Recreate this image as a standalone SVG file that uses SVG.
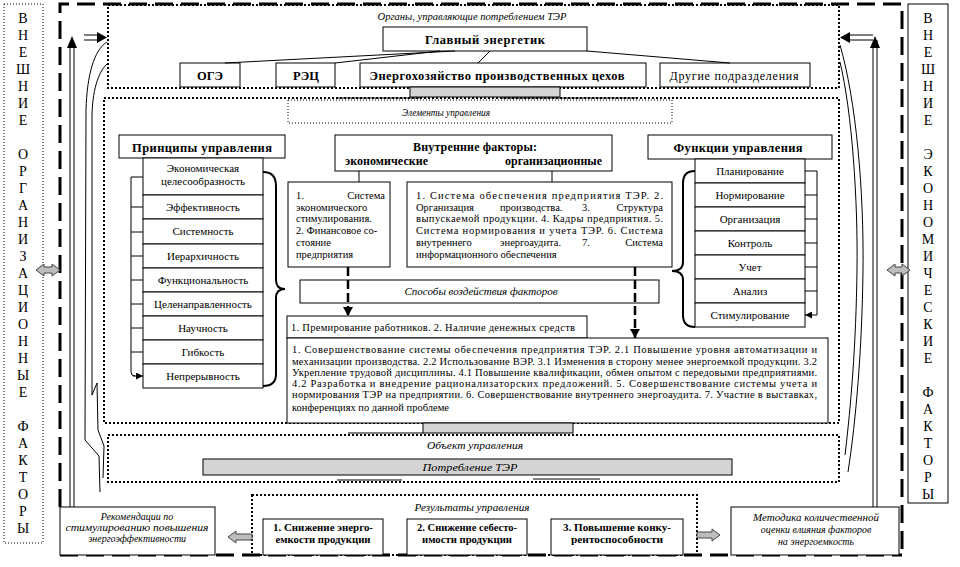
<svg xmlns="http://www.w3.org/2000/svg" width="960" height="567" viewBox="0 0 960 567" font-family="'Liberation Serif','DejaVu Serif','Times New Roman',serif">
<defs>
<style>
.bx{fill:#fff;stroke:#000;stroke-width:1}
.gb{fill:#d4d4d4;stroke:#000;stroke-width:1}
.dt{fill:none;stroke:#000;stroke-width:2;stroke-dasharray:2 2}
.dt1{fill:none;stroke:#000;stroke-width:1;stroke-dasharray:1 2}
.ln{fill:none;stroke:#000;stroke-width:1}
.br{fill:none;stroke:#000;stroke-width:2}
.ga{fill:#bdbdbd;stroke:#444;stroke-width:1}
text{font-family:'Liberation Serif','DejaVu Serif','Times New Roman',serif;fill:#000}
.s{font-size:11px}
.m{font-size:10.5px}
.b{font-weight:bold}
.i{font-style:italic;font-size:10px}
.c{text-anchor:middle}
.e{text-anchor:end}
.v{font-size:14px;text-anchor:middle}
</style>
<marker id="a" markerWidth="7" markerHeight="7" refX="7" refY="3.5" orient="auto" markerUnits="userSpaceOnUse"><path d="M0,0L7,3.5L0,7Z"/></marker>
<marker id="A" markerWidth="9" markerHeight="10" refX="9" refY="5" orient="auto" markerUnits="userSpaceOnUse"><path d="M0,0L9,5L0,10Z"/></marker>
</defs>
<rect width="960" height="567" fill="#fff"/>

<g id="frame">
<path d="M60,507 V4 H902 V555 M60,555 H902" fill="none" stroke="#000" stroke-width="3" stroke-dasharray="18 8"/>
</g>

<g id="ext-org">
<rect x="4" y="4" width="39" height="539" class="dt1"/>
<text class="v"><tspan x="23" y="23">В</tspan><tspan x="23" y="40">Н</tspan><tspan x="23" y="57">Е</tspan><tspan x="23" y="74">Ш</tspan><tspan x="23" y="91">Н</tspan><tspan x="23" y="108">И</tspan><tspan x="23" y="125">Е</tspan><tspan x="23" y="159">О</tspan><tspan x="23" y="176">Р</tspan><tspan x="23" y="193">Г</tspan><tspan x="23" y="210">А</tspan><tspan x="23" y="227">Н</tspan><tspan x="23" y="244">И</tspan><tspan x="23" y="261">З</tspan><tspan x="23" y="278">А</tspan><tspan x="23" y="295">Ц</tspan><tspan x="23" y="312">И</tspan><tspan x="23" y="329">О</tspan><tspan x="23" y="346">Н</tspan><tspan x="23" y="363">Н</tspan><tspan x="23" y="380">Ы</tspan><tspan x="23" y="397">Е</tspan><tspan x="23" y="431">Ф</tspan><tspan x="23" y="448">А</tspan><tspan x="23" y="465">К</tspan><tspan x="23" y="482">Т</tspan><tspan x="23" y="499">О</tspan><tspan x="23" y="516">Р</tspan><tspan x="23" y="533">Ы</tspan></text>
</g>

<g id="ext-econ">
<rect x="908" y="4" width="40" height="499" class="bx"/>
<text class="v"><tspan x="928" y="23">В</tspan><tspan x="928" y="40">Н</tspan><tspan x="928" y="57">Е</tspan><tspan x="928" y="74">Ш</tspan><tspan x="928" y="91">Н</tspan><tspan x="928" y="108">И</tspan><tspan x="928" y="125">Е</tspan><tspan x="928" y="159">Э</tspan><tspan x="928" y="176">К</tspan><tspan x="928" y="193">О</tspan><tspan x="928" y="210">Н</tspan><tspan x="928" y="227">О</tspan><tspan x="928" y="244">М</tspan><tspan x="928" y="261">И</tspan><tspan x="928" y="278">Ч</tspan><tspan x="928" y="295">Е</tspan><tspan x="928" y="312">С</tspan><tspan x="928" y="329">К</tspan><tspan x="928" y="346">И</tspan><tspan x="928" y="363">Е</tspan><tspan x="928" y="397">Ф</tspan><tspan x="928" y="414">А</tspan><tspan x="928" y="431">К</tspan><tspan x="928" y="448">Т</tspan><tspan x="928" y="465">О</tspan><tspan x="928" y="482">Р</tspan><tspan x="928" y="499">Ы</tspan></text>
</g>

<g id="organs">
<rect x="108" y="5" width="731" height="83" class="dt"/>
<text x="472" y="20" class="i c" textLength="189" lengthAdjust="spacingAndGlyphs">Органы, управляющие потреблением ТЭР</text>
</g>
<g id="chief">
<rect x="383" y="27" width="204" height="24" class="bx"/>
<text x="485" y="44" class="b c" font-size="12.5" textLength="120" lengthAdjust="spacing">Главный энергетик</text>
</g>
<g id="oge">
<rect x="180" y="63" width="60" height="24" class="bx"/>
<text x="210" y="80" class="b c" font-size="12.5">ОГЭ</text>
</g>
<g id="rec">
<rect x="276" y="63" width="59" height="24" class="bx"/>
<text x="306" y="80" class="b c" font-size="12.5">РЭЦ</text>
</g>
<g id="energo">
<rect x="360" y="63" width="286" height="24" class="bx"/>
<text x="497" y="80" class="b c" font-size="12.5" textLength="255" lengthAdjust="spacing">Энергохозяйство производственных цехов</text>
</g>
<g id="other">
<rect x="660" y="63" width="150" height="24" class="bx"/>
<text x="734" y="80" class="c" font-size="12" textLength="129" lengthAdjust="spacing">Другие подразделения</text>
</g>

<g id="elements">
<rect x="104" y="98" width="735" height="325" class="dt"/>
<rect x="288" y="100" width="384" height="23" class="dt1"/>
<text x="446" y="116" class="i c" textLength="88" lengthAdjust="spacingAndGlyphs">Элементы управления</text>
</g>

<g id="principles">
<rect x="119" y="135" width="166" height="23" class="bx"/>
<text x="202" y="152" class="b c" font-size="12.5" textLength="140" lengthAdjust="spacing">Принципы управления</text>
<rect x="143" y="158" width="120" height="37" class="bx"/>
<text x="203" y="172" class="s c">Экономическая</text>
<text x="203" y="185" class="s c">целесообразность</text>
<rect x="143" y="195" width="120" height="24" class="bx"/>
<text x="203" y="211" class="s c">Эффективность</text>
<rect x="143" y="219" width="120" height="25" class="bx"/>
<text x="203" y="235" class="s c">Системность</text>
<rect x="143" y="244" width="120" height="24" class="bx"/>
<text x="203" y="260" class="s c">Иерархичность</text>
<rect x="143" y="268" width="120" height="24" class="bx"/>
<text x="203" y="284" class="s c">Функциональность</text>
<rect x="143" y="292" width="120" height="24" class="bx"/>
<text x="203" y="308" class="s c">Целенаправленность</text>
<rect x="143" y="316" width="120" height="24" class="bx"/>
<text x="203" y="332" class="s c">Научность</text>
<rect x="143" y="340" width="120" height="24" class="bx"/>
<text x="203" y="356" class="s c">Гибкость</text>
<rect x="143" y="364" width="120" height="24" class="bx"/>
<text x="203" y="380" class="s c">Непрерывность</text>
</g>

<g id="internal">
<rect x="335" y="135" width="277" height="36" class="bx"/>
<text x="475" y="151" class="b c" font-size="12" textLength="124" lengthAdjust="spacing">Внутренние факторы:</text>
<text x="345" y="165" class="b" font-size="12" textLength="83" lengthAdjust="spacing">экономические</text>
<text x="505" y="165" class="b" font-size="12" textLength="97" lengthAdjust="spacing">организационные</text>
</g>

<g id="econ-factors">
<rect x="288" y="182" width="102" height="85" class="bx"/>
<text x="296" y="199" class="m">1.</text>
<text x="385" y="199" class="m e">Система</text>
<text x="296" y="211" class="m">экономического</text>
<text x="296" y="222" class="m">стимулирования.</text>
<text x="296" y="234" class="m">2. Финансовое со-</text>
<text x="296" y="246" class="m">стояние</text>
<text x="296" y="258" class="m">предприятия</text>
</g>

<g id="org-factors">
<rect x="407" y="182" width="265" height="85" class="bx"/>
<text x="416" y="199" class="m" textLength="247" lengthAdjust="spacing">1. Система обеспечения предприятия ТЭР. 2.</text>
<text x="416" y="211" class="m">Организация</text>
<text x="500" y="211" class="m">производства.</text>
<text x="582" y="211" class="m">3.</text>
<text x="663" y="211" class="m e">Структура</text>
<text x="416" y="222" class="m" textLength="247" lengthAdjust="spacing">выпускаемой продукции. 4. Кадры предприятия. 5.</text>
<text x="416" y="234" class="m" textLength="247" lengthAdjust="spacing">Система нормирования и учета ТЭР. 6. Система</text>
<text x="416" y="246" class="m">внутреннего</text>
<text x="500" y="246" class="m">энергоаудита.</text>
<text x="582" y="246" class="m">7.</text>
<text x="663" y="246" class="m e">Система</text>
<text x="416" y="258" class="m">информационного обеспечения</text>
</g>

<g id="functions">
<rect x="648" y="135" width="184" height="24" class="bx"/>
<text x="738" y="152" class="b c" font-size="12.5" textLength="129" lengthAdjust="spacing">Функции управления</text>
<rect x="695" y="159" width="110" height="24" class="bx"/>
<text x="750" y="175" class="s c">Планирование</text>
<rect x="695" y="183" width="110" height="24" class="bx"/>
<text x="750" y="199" class="s c">Нормирование</text>
<rect x="695" y="207" width="110" height="24" class="bx"/>
<text x="750" y="223" class="s c">Организация</text>
<rect x="695" y="231" width="110" height="24" class="bx"/>
<text x="750" y="247" class="s c">Контроль</text>
<rect x="695" y="255" width="110" height="24" class="bx"/>
<text x="750" y="271" class="s c">Учет</text>
<rect x="695" y="279" width="110" height="24" class="bx"/>
<text x="750" y="295" class="s c">Анализ</text>
<rect x="695" y="303" width="110" height="24" class="bx"/>
<text x="750" y="319" class="s c">Стимулирование</text>
</g>

<g id="methods">
<rect x="300" y="280" width="359" height="23" class="bx"/>
<text x="481" y="295" class="i c" font-size="10.5" textLength="153" lengthAdjust="spacingAndGlyphs">Способы воздействия факторов</text>
</g>

<g id="econ-methods">
<rect x="287" y="316" width="300" height="22" class="bx"/>
<text x="291" y="331" class="m" textLength="284" lengthAdjust="spacing">1. Премирование работников. 2. Наличие денежных средств</text>
</g>

<g id="org-methods">
<rect x="287" y="338" width="541" height="85" class="bx"/>
<text x="292" y="353" class="m" textLength="525" lengthAdjust="spacing">1. Совершенствование системы обеспечения предприятия ТЭР. 2.1 Повышение уровня автоматизации и</text>
<text x="292" y="365" class="m" textLength="525" lengthAdjust="spacing">механизации производства. 2.2 Использование ВЭР. 3.1 Изменения в сторону менее энергоемкой продукции. 3.2</text>
<text x="292" y="376" class="m" textLength="525" lengthAdjust="spacing">Укрепление трудовой дисциплины. 4.1 Повышение квалификации, обмен опытом с передовыми предприятиями.</text>
<text x="292" y="387" class="m" textLength="525" lengthAdjust="spacing">4.2 Разработка и внедрение рационализаторских предложений. 5. Совершенствование системы учета и</text>
<text x="292" y="398" class="m" textLength="525" lengthAdjust="spacing">нормирования ТЭР на предприятии. 6. Совершенствование внутреннего энергоаудита. 7. Участие в выставках,</text>
<text x="292" y="411" class="m">конференциях по данной проблеме</text>
</g>

<g id="object">
<rect x="108" y="435" width="731" height="47" class="dt"/>
<text x="475" y="449" class="i c" textLength="96" lengthAdjust="spacingAndGlyphs">Объект управления</text>
</g>
<g id="consumption">
<rect x="203" y="459" width="529" height="16" class="gb"/>
<text x="470" y="471" class="i c" textLength="95" lengthAdjust="spacingAndGlyphs">Потребление ТЭР</text>
</g>

<g id="results">
<rect x="252" y="495" width="445" height="60" class="dt"/>
<text x="472" y="511" class="i c" textLength="115" lengthAdjust="spacingAndGlyphs">Результаты управления</text>
</g>
<g id="res1">
<rect x="263" y="519" width="120" height="36" class="bx"/>
<text x="323" y="531" class="b c" font-size="10" textLength="100" lengthAdjust="spacingAndGlyphs">1. Снижение энерго-</text>
<text x="323" y="543" class="b c" font-size="10" textLength="95" lengthAdjust="spacingAndGlyphs">емкости продукции</text>
</g>
<g id="res2">
<rect x="407" y="519" width="120" height="36" class="bx"/>
<text x="467" y="531" class="b c" font-size="10" textLength="100" lengthAdjust="spacingAndGlyphs">2. Снижение себесто-</text>
<text x="467" y="543" class="b c" font-size="10" textLength="90" lengthAdjust="spacingAndGlyphs">имости продукции</text>
</g>
<g id="res3">
<rect x="551" y="519" width="132" height="36" class="bx"/>
<text x="617" y="531" class="b c" font-size="10" textLength="108" lengthAdjust="spacingAndGlyphs">3. Повышение конку-</text>
<text x="617" y="543" class="b c" font-size="10" textLength="92" lengthAdjust="spacingAndGlyphs">рентоспособности</text>
</g>

<g id="recommend">
<rect x="60" y="507" width="155" height="48" class="bx"/>
<text x="137" y="520" class="i c">Рекомендации по</text>
<text x="137" y="531" class="i c" textLength="143" lengthAdjust="spacingAndGlyphs">стимулированию повышения</text>
<text x="137" y="542" class="i c">энергоэффективности</text>
</g>
<g id="method">
<rect x="731" y="507" width="168" height="48" class="bx"/>
<text x="816" y="521" class="i c" textLength="126" lengthAdjust="spacingAndGlyphs">Методика количественной</text>
<text x="816" y="533" class="i c">оценки влияния факторов</text>
<text x="816" y="545" class="i c">на энергоемкость</text>
</g>

<g id="connectors">
<path class="ln" d="M455,51 L225,63 M440,51 L335,63 M490,51 L478,63 M587,51 L730,63"/>
<rect x="410" y="87" width="150" height="10" class="gb"/>
<rect x="423" y="423" width="150" height="10" class="gb"/>
<path class="ln" stroke-width="1.5" d="M337,98 H420 M500,98 H637 M348,433 H423 M337,480 H402 M533,479 H600"/>
<path class="ln" d="M359,171 V182 M552,171 V182"/>
<path class="ln" d="M131,177 V372 Q131,376 135,376"/>
<path class="ln" marker-end="url(#a)" d="M131,177 H143 M131,207 H143 M131,232 H143 M131,256 H143 M131,280 H143 M131,304 H143 M131,328 H143 M131,352 H143 M133,376 H143"/>
<path class="ln" d="M817,171 V315"/>
<path class="ln" marker-end="url(#a)" d="M817,171 H805 M817,195 H805 M817,219 H805 M817,243 H805 M817,267 H805 M817,291 H805 M817,315 H805"/>
<path class="br" d="M263,172 Q276,172 276,186 L276,280 Q276,289 285,289 Q276,289 276,298 L276,374 Q276,386 263,386"/>
<path class="br" d="M695,171 Q683,171 683,183 L683,262 Q683,271 672,271 Q683,271 683,280 L683,315 Q683,327 695,327"/>
<path fill="none" stroke="#000" stroke-width="2.5" stroke-dasharray="9 4" marker-end="url(#A)" d="M348,267 V316"/>
<path fill="none" stroke="#000" stroke-width="2.5" stroke-dasharray="9 4" marker-end="url(#A)" d="M635,267 V338"/>
<path class="ln" d="M70,47 V507 M74,47 V507 M873,47 V507 M877,40 V507"/>
<path d="M72,36 L67,48 L77,48 Z M875,36 L870,48 L880,48 Z"/>
<path class="ln" d="M84,35 H99 M84,40 H99 M849,35 H873 M849,40 H873"/>
<path d="M107,37.5 L97,32 L97,43 Z M840,37.5 L850,32 L850,43 Z"/>
<path class="ln" d="M107,42 C94,50 87,75 86,110 L85,440 L99,456 L100,492"/>
<path class="ln" d="M107,64 C98,72 92,92 92,118 L92,395 L97,383 L98,430 L104,446 L103,478"/>
<path class="ln" d="M840,45 C856,100 864,190 863,270 C862,350 856,420 848,472"/>
<path class="ln" d="M840,62 C852,112 858,200 857,270 C856,345 851,405 845,455"/>
<path class="ga" d="M36,270 L44,264 L44,267 L52,267 L52,264 L60,270 L52,276 L52,273 L44,273 L44,276 Z"/>
<path class="ga" d="M887,270 L895,264 L895,267 L902,267 L902,264 L910,270 L902,276 L902,273 L895,273 L895,276 Z"/>
<path class="ga" d="M228,537 L236,531 L236,534 L252,534 L252,540 L236,540 L236,543 Z"/>
<path class="ga" d="M720,535 L712,529 L712,532 L697,532 L697,538 L712,538 L712,541 Z"/>
</g>
</svg>
